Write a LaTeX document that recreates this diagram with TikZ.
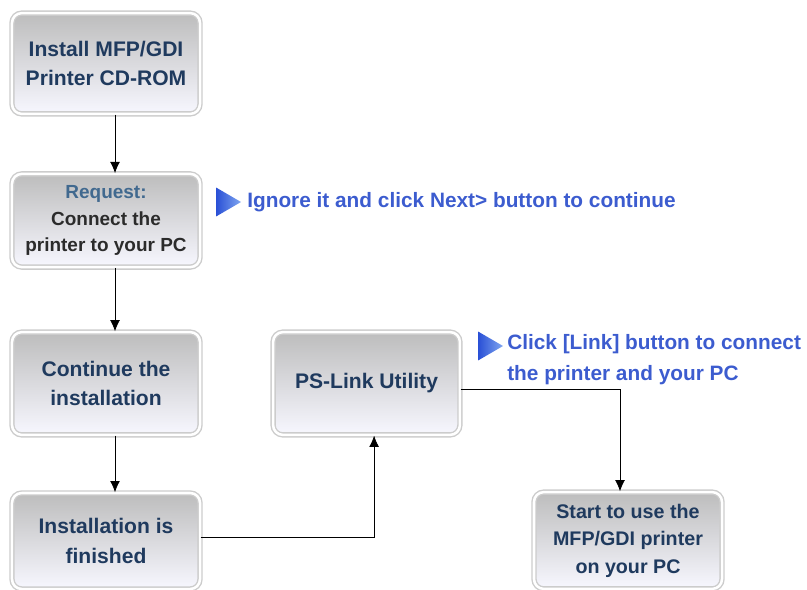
\documentclass[tikz,border=0pt]{standalone}
\usepackage{fontspec}
\setmainfont{Liberation Sans}
\usepackage{tikz}
\usetikzlibrary{calc}
\usetikzlibrary{positioning}
\usetikzlibrary{arrows.meta}
\usetikzlibrary{shapes.geometric}
\definecolor{stagetext}{HTML}{1F3A5E}
\definecolor{reqtext}{HTML}{41698F}
\definecolor{darktext}{HTML}{2B2B2B}
\definecolor{notetext}{HTML}{3C5CCF}
\definecolor{tipdark}{HTML}{2A50D6}
\definecolor{tiplight}{HTML}{7FA6F0}
\tikzset{
  stage/.style={rectangle, draw=gray!40, double=white, double distance=1.8pt, line width=1pt,
    top color=gray!52, bottom color=blue!3, rounded corners=7pt, minimum width=4.7cm,
    align=center, text=stagetext, font=\bfseries\fontsize{15}{21}\selectfont},
  tipmark/.style={isosceles triangle, isosceles triangle stretches, inner sep=0pt,
    minimum width=0.72cm, minimum height=0.62cm, left color=tipdark, right color=tiplight},
  note/.style={text=notetext, align=left, inner sep=0pt, font=\bfseries\fontsize{14.8}{22}\selectfont}
}
\begin{document}
\begin{tikzpicture}[x=0.025cm, y=-0.025cm]
\useasboundingbox (0,0) rectangle (807,590);

\node at (106,63.5)[stage, minimum height=2.52cm] (inst) {Install MFP/GDI\\Printer CD-ROM};
\node at (106,220.5)[stage, minimum height=2.33cm, font=\bfseries\fontsize{13.5}{19}\selectfont] (req)
	{\textcolor{reqtext}{Request:}\\\textcolor{darktext}{Connect the}\\\textcolor{darktext}{printer to your PC}};
\node at (106,383.5)[stage, minimum height=2.57cm] (cont) {Continue the\\installation};
\node at (106,541)[stage, minimum height=2.4cm] (fin) {Installation is\\finished};

\node at (366.5,383.5)[stage, minimum width=4.67cm, minimum height=2.57cm] (ps) {PS-Link Utility};
\node at (628,540.5)[stage, minimum height=2.42cm, font=\bfseries\fontsize{14}{19.5}\selectfont] (start)
	{Start to use the\\MFP/GDI printer\\on your PC};

\node at (224.5,202)[tipmark] (tip1) {};
\node[note, anchor=west] (note1) at (247,202) {Ignore it and click Next> button to continue};
\node at (486.5,346)[tipmark] (tip2) {};
\node[note, anchor=north west] (note2) at (507,334) {Click [Link] button to connect\\the printer and your PC};

\begin{scope}[>={Latex[length=8pt,width=7pt]}]
	\draw [semithick, ->] ([xshift=0.225cm]inst.south) -- ([xshift=0.225cm]req.north);
	\draw [semithick, ->] ([xshift=0.225cm]req.south) -- ([xshift=0.225cm]cont.north);
	\draw [semithick, ->] ([xshift=0.225cm]cont.south) -- ([xshift=0.225cm]fin.north);
	\draw [semithick, ->] ([yshift=0.1cm]fin.east) -| ([xshift=0.19cm]ps.south);
	\draw [semithick, ->] ([yshift=-0.16cm]ps.east) -| ([xshift=-0.2cm]start.north);
\end{scope}

\end{tikzpicture}
\end{document}
